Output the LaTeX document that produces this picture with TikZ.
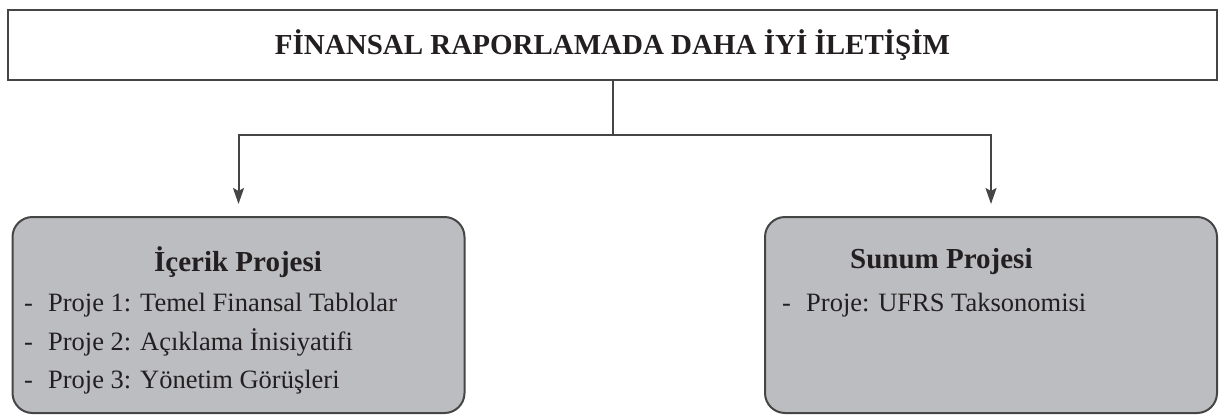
\documentclass[tikz,border=0pt]{standalone}
\usepackage{fontspec}
\setmainfont{Liberation Serif}
\usetikzlibrary{positioning, arrows.meta}
\definecolor{boxFill}{HTML}{BCBDC0}
\definecolor{boxLine}{HTML}{454545}
\definecolor{inkText}{HTML}{231F20}
\newcommand{\itemline}[1]{\makebox[24pt][l]{-}#1}

\begin{document}
\begin{tikzpicture}[x=1pt, y=-1pt,
    titlebox/.style={draw=boxLine, line width=2pt, minimum width=1209pt, minimum height=70pt},
    projbox/.style={draw=boxLine, fill=boxFill, line width=2pt, rounded corners=20pt,
        minimum width=452pt, minimum height=196pt},
    headtext/.style={text=inkText, font=\fontsize{29}{34}\selectfont\bfseries, inner sep=0pt},
    listtext/.style={text=inkText, font=\fontsize{26.5}{38.5}\selectfont, align=left, inner sep=0pt},
    link/.style={draw=boxLine, line width=2pt},
    linkarrow/.style={link, -{Stealth[length=16pt, width=11pt, inset=3pt]}, shorten >=12pt}]
  \useasboundingbox (0,0) rectangle (1220,415);
  % top box
  \node[titlebox] (title) at (612.5,45)
    {\textcolor{inkText}{\fontsize{29}{34}\selectfont\bfseries FİNANSAL RAPORLAMADA DAHA İYİ İLETİŞİM}};
  % project boxes
  \node[projbox] (content) at (238.5,315) {};
  \node[projbox] (presentation) at (991,315) {};
  \node[headtext] (contenthead) at (238,262) {İçerik Projesi};
  \node[headtext, anchor=west] (presenthead) at (850,262) {Sunum Projesi};
  \node[listtext, anchor=north west] (contentlist) at (24,293)
    {\itemline{Proje 1: Temel Finansal Tablolar}\\
     \itemline{Proje 2: Açıklama İnisiyatifi}\\
     \itemline{Proje 3: Yönetim Görüşleri}};
  \node[listtext, anchor=north west] (presentlist) at (782,293)
    {\itemline{Proje: UFRS Taksonomisi}};
  % connectors
  \draw[link] (title.south) -- ++(0,54) coordinate (split);
  \draw[linkarrow] (split) -| (content.north);
  \draw[linkarrow] (split) -| (presentation.north);
\end{tikzpicture}
\end{document}
